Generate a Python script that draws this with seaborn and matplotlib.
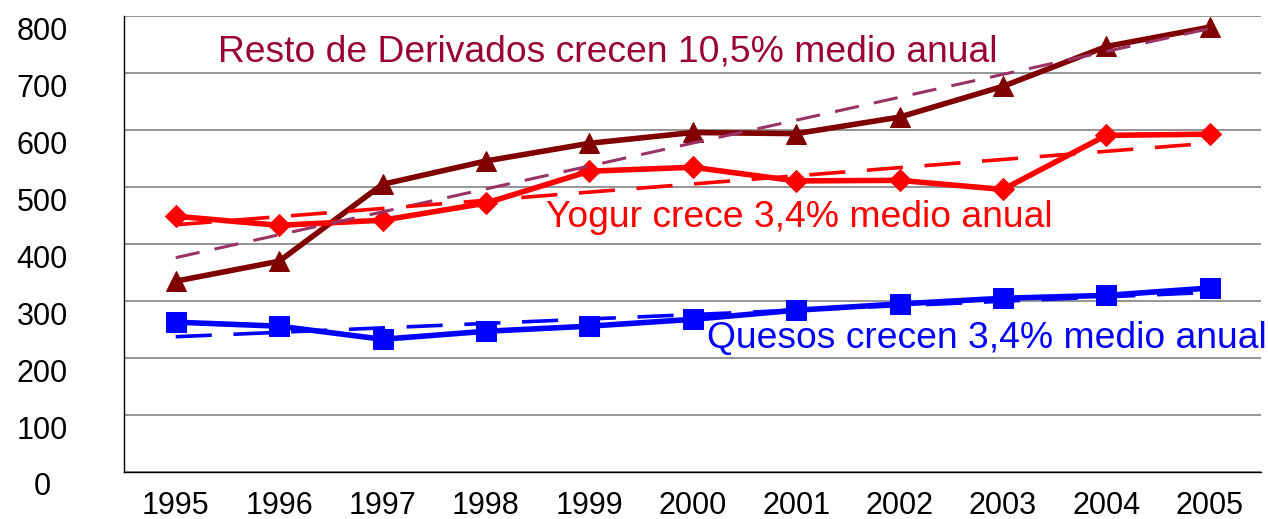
import numpy as np
import pandas as pd
import seaborn as sns
import matplotlib.pyplot as plt
import matplotlib.transforms as mtransforms

# Data
years = ['1995', '1996', '1997', '1998', '1999', '2000', '2001', '2002', '2003', '2004', '2005']
resto = [335, 370, 505, 546, 577, 596, 594, 623, 677, 747, 781]
yogur = [449, 433, 442, 472, 528, 535, 511, 512, 496, 591, 593]
quesos = [263, 256, 233, 247, 256, 268, 284, 295, 305, 310, 323]

label_resto = 'Resto de Derivados crecen 10,5% medio anual'
label_yogur = 'Yogur crece 3,4% medio anual'
label_quesos = 'Quesos crecen 3,4% medio anual'

sns.set_style('white')
plt.rcParams['font.family'] = ['Liberation Sans', 'DejaVu Sans']
plt.rcParams['text.color'] = 'black'
plt.rcParams['xtick.color'] = 'black'
plt.rcParams['ytick.color'] = 'black'

fig = plt.figure(figsize=(12.68, 5.19), dpi=100)
ax = fig.add_axes([0.0978, 0.0906, 0.897, 0.878])

x = np.arange(len(years))

# Main series
sns.lineplot(x=x, y=resto, ax=ax, color='#800000', lw=4, marker='^', ms=15,
             markeredgecolor='#800000', zorder=3)
sns.lineplot(x=x, y=yogur, ax=ax, color='#FF0000', lw=4, marker='D', ms=11,
             markeredgecolor='#FF0000', zorder=3)
sns.lineplot(x=x, y=quesos, ax=ax, color='#0000FF', lw=4, marker='s', ms=14,
             markeredgecolor='#0000FF', zorder=3)

# Linear trend lines
sns.regplot(x=x, y=resto, ax=ax, scatter=False, ci=None, color='#993366',
            line_kws=dict(lw=2.2, dashes=(8, 5), zorder=4))
sns.regplot(x=x, y=yogur, ax=ax, scatter=False, ci=None, color='#FF0000',
            line_kws=dict(lw=2.6, dashes=(10, 6), zorder=4))
sns.regplot(x=x, y=quesos, ax=ax, scatter=False, ci=None, color='#0000FF',
            line_kws=dict(lw=2.6, dashes=(10, 6), zorder=4))

# Annotations
ax.text(0.41, 721, label_resto, color='#990033', fontsize=26.8, va='baseline', ha='left')
ax.text(3.58, 430, label_yogur, color='#FF0000', fontsize=26.8, va='baseline', ha='left')
ax.text(5.14, 218, label_quesos, color='#0000FF', fontsize=26.8, va='baseline', ha='left')

# Axes styling
ax.set_xlim(-0.5, len(years) - 0.5)
ax.set_ylim(0, 800)
ax.set_yticks(np.arange(0, 801, 100))
ax.set_xticks(x)
ax.set_xticklabels(years)
ax.set_xticks(np.arange(-0.5, len(years), 1), minor=True)
ax.tick_params(axis='x', which='major', length=0, labelsize=22, pad=14)
ax.tick_params(axis='x', which='minor', length=6, width=1, color='black', direction='out')
ax.tick_params(axis='y', length=6, width=1, color='black', direction='out',
               labelsize=22, pad=53)
ax.grid(axis='y', color='#8c8c8c', lw=1.3)
ax.grid(axis='x', visible=False)
for s in ['top', 'right']:
    ax.spines[s].set_visible(False)
for s in ['left', 'bottom']:
    ax.spines[s].set_color('black')
    ax.spines[s].set_linewidth(1)
ax.set_xlabel('')
ax.set_ylabel('')

# y labels sit slightly below their gridlines in the original
offset = mtransforms.ScaledTranslation(0, -12 / 100, fig.dpi_scale_trans)
for lab in ax.get_yticklabels():
    lab.set_transform(lab.get_transform() + offset)
    lab.set_horizontalalignment('center')

fig.savefig('out.png', dpi=100)
